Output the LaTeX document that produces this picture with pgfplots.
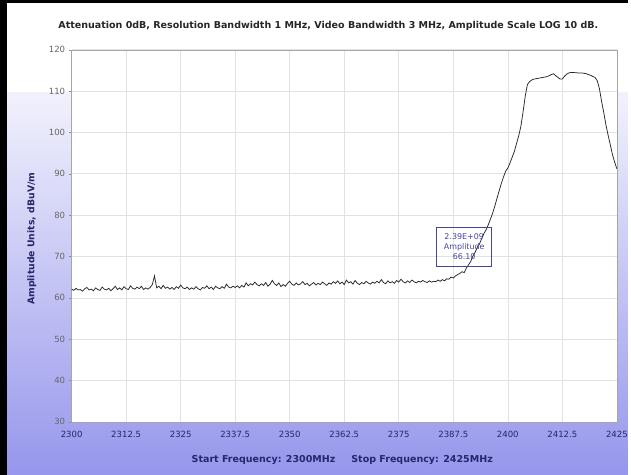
\documentclass[border=0pt]{standalone}
\usepackage{fontspec}
\setmainfont{DejaVu Sans}
\usepackage{pgfplots}
\pgfplotsset{compat=1.18}
\definecolor{bgblue}{HTML}{9696EC}
\definecolor{bgtop}{HTML}{F2F2FD}
\definecolor{navy}{HTML}{26266A}
\definecolor{annot}{HTML}{4545A0}
\definecolor{gridc}{HTML}{E2E2E2}
\begin{document}
\begin{tikzpicture}[x=1bp,y=1bp]
\shade[top color=bgtop, bottom color=bgblue] (0,0) rectangle (631,385);
\fill[white] (0,385) rectangle (631,477);
\fill[black] (0,474) rectangle (631,477);
\fill[black] (0,0) rectangle (7,477);
\node[font=\bfseries\fontsize{9.6}{11}\selectfont, text=black!85] at (330,451) {Attenuation 0dB, Resolution Bandwidth 1 MHz, Video Bandwidth 3 MHz, Amplitude Scale LOG 10 dB.};
\node[font=\bfseries\fontsize{9.6}{11}\selectfont, text=navy] at (344,15) {Start Frequency: 2300MHz\hspace{16bp}Stop Frequency: 2425MHz};
\node[font=\bfseries\fontsize{9.4}{11}\selectfont, text=navy, rotate=90] at (32,237) {Amplitude Units, dBuV/m};
\begin{axis}[
  at={(72bp,53bp)}, anchor=south west,
  scale only axis, width=548bp, height=374bp,
  xmin=2300, xmax=2425, ymin=30, ymax=120,
  axis background/.style={fill=white},
  axis line style={draw=black!35},
  grid=major, major grid style={draw=gridc, line width=0.6bp},
  xtick={2300,2312.5,2325,2337.5,2350,2362.5,2375,2387.5,2400,2412.5,2425},
  xticklabels={2300,2312.5,2325,2337.5,2350,2362.5,2375,2387.5,2400,2412.5,2425},
  ytick={30,40,50,60,70,80,90,100,110,120},
  yticklabels={30,40,50,60,70,80,90,100,110,120},
  xtick style={draw=none},
  ytick style={draw=black!45},
  tick align=outside, tick pos=left,
  major tick length=3bp,
  x tick label style={font=\fontsize{8.6}{10}\selectfont, text=navy, yshift=-3bp},
  y tick label style={font=\fontsize{8.6}{10}\selectfont, text=black!60},
]
\addplot[draw=black!85, line width=0.75bp] coordinates {
(2300.0,62.1)(2300.5,61.8)(2301.0,62.3)(2301.5,61.9)(2302.0,62.0)(2302.5,61.6)(2303.0,62.2)(2303.5,62.5)
(2304.0,61.9)(2304.5,62.1)(2305.0,61.7)(2305.5,62.4)(2306.0,62.0)(2306.5,61.8)(2307.0,62.6)(2307.5,62.1)
(2308.0,61.9)(2308.5,62.3)(2309.0,61.7)(2309.5,62.2)(2310.0,62.8)(2310.5,62.0)(2311.0,62.4)(2311.5,61.9)
(2312.0,62.7)(2312.5,62.2)(2313.0,62.0)(2313.5,62.9)(2314.0,62.3)(2314.5,62.1)(2315.0,62.6)(2315.5,62.2)
(2316.0,62.8)(2316.5,62.0)(2317.0,62.4)(2317.5,62.1)(2318.0,62.5)(2318.5,63.2)(2319.0,65.3)(2319.5,62.4)
(2320.0,62.8)(2320.5,62.2)(2321.0,63.0)(2321.5,62.3)(2322.0,62.6)(2322.5,62.1)(2323.0,62.5)(2323.5,62.0)
(2324.0,62.7)(2324.5,62.3)(2325.0,63.1)(2325.5,62.4)(2326.0,62.2)(2326.5,62.6)(2327.0,62.0)(2327.5,62.4)
(2328.0,62.1)(2328.5,62.7)(2329.0,62.2)(2329.5,61.9)(2330.0,62.5)(2330.5,62.3)(2331.0,62.9)(2331.5,62.2)
(2332.0,62.6)(2332.5,62.0)(2333.0,62.8)(2333.5,62.4)(2334.0,62.2)(2334.5,62.7)(2335.0,62.3)(2335.5,63.3)
(2336.0,62.6)(2336.5,62.4)(2337.0,62.8)(2337.5,62.5)(2338.0,62.9)(2338.5,62.4)(2339.0,63.0)(2339.5,62.6)
(2340.0,63.6)(2340.5,62.9)(2341.0,63.4)(2341.5,63.1)(2342.0,63.8)(2342.5,63.2)(2343.0,62.9)(2343.5,63.4)
(2344.0,63.0)(2344.5,63.7)(2345.0,62.8)(2345.5,63.3)(2346.0,64.2)(2346.5,63.4)(2347.0,63.0)(2347.5,63.6)
(2348.0,62.7)(2348.5,63.2)(2349.0,62.8)(2349.5,63.5)(2350.0,64.0)(2350.5,63.3)(2351.0,63.0)(2351.5,63.6)
(2352.0,63.1)(2352.5,63.4)(2353.0,63.9)(2353.5,63.2)(2354.0,63.5)(2354.5,62.9)(2355.0,63.3)(2355.5,63.7)
(2356.0,63.1)(2356.5,63.5)(2357.0,63.2)(2357.5,63.8)(2358.0,63.4)(2358.5,63.0)(2359.0,63.6)(2359.5,63.3)
(2360.0,63.9)(2360.5,63.5)(2361.0,64.1)(2361.5,63.4)(2362.0,63.8)(2362.5,63.2)(2363.0,64.3)(2363.5,63.6)
(2364.0,63.9)(2364.5,63.3)(2365.0,64.2)(2365.5,63.5)(2366.0,63.2)(2366.5,63.7)(2367.0,63.4)(2367.5,64.0)
(2368.0,63.6)(2368.5,63.3)(2369.0,63.8)(2369.5,63.5)(2370.0,64.0)(2370.5,63.6)(2371.0,64.4)(2371.5,63.7)
(2372.0,63.4)(2372.5,64.1)(2373.0,63.6)(2373.5,63.9)(2374.0,63.5)(2374.5,64.2)(2375.0,63.8)(2375.5,64.5)
(2376.0,63.9)(2376.5,63.6)(2377.0,64.1)(2377.5,63.7)(2378.0,64.3)(2378.5,63.9)(2379.0,63.6)(2379.5,64.0)
(2380.0,63.8)(2380.5,64.2)(2381.0,63.9)(2381.5,63.7)(2382.0,64.1)(2382.5,63.8)(2383.0,64.0)(2383.5,63.9)
(2384.0,64.3)(2384.5,64.0)(2385.0,64.4)(2385.5,64.1)(2386.0,64.6)(2386.5,64.5)(2387.0,65.0)(2387.5,64.8)
(2388.0,65.3)(2388.5,65.6)(2389.0,65.9)(2389.5,66.3)(2390.0,66.1)(2390.5,67.2)(2391.0,68.0)(2391.5,68.8)
(2392.0,70.1)(2392.5,71.0)(2393.0,72.2)(2393.5,73.0)(2394.0,74.3)(2394.5,75.5)(2395.0,76.4)(2395.5,77.6)
(2396.0,79.0)(2396.5,80.4)(2397.0,82.1)(2397.5,84.0)(2398.0,85.8)(2398.5,87.6)(2399.0,89.2)(2399.5,90.6)
(2400.0,91.4)(2400.5,92.6)(2401.0,94.0)(2401.5,95.4)(2402.0,97.3)(2402.5,99.2)(2403.0,101.5)(2403.5,105.0)
(2404.0,108.8)(2404.5,111.6)(2405.0,112.3)(2405.5,112.7)(2406.0,112.9)(2407.0,113.1)(2408.0,113.3)(2409.0,113.5)
(2410.0,114.0)(2410.5,114.2)(2411.0,113.7)(2411.5,113.3)(2412.0,112.9)(2412.5,112.9)(2413.0,113.6)(2413.5,114.1)
(2414.0,114.4)(2414.5,114.5)(2415.0,114.5)(2416.0,114.4)(2417.0,114.4)(2418.0,114.2)(2419.0,113.8)(2420.0,113.3)
(2420.5,112.5)(2421.0,110.6)(2421.5,107.5)(2422.0,104.8)(2422.5,101.8)(2423.0,99.3)(2423.5,97.0)(2424.0,94.6)
(2424.5,92.8)(2425.0,91.2)
};
\node[draw=annot, line width=0.7bp, text=annot, align=center, inner sep=1bp,
      minimum width=55bp, minimum height=39bp,
      font=\fontsize{8}{10}\selectfont] at (axis cs:2390,72.35) {2.39E+09\\Amplitude\\66.10};
\end{axis}
\end{tikzpicture}
\end{document}
